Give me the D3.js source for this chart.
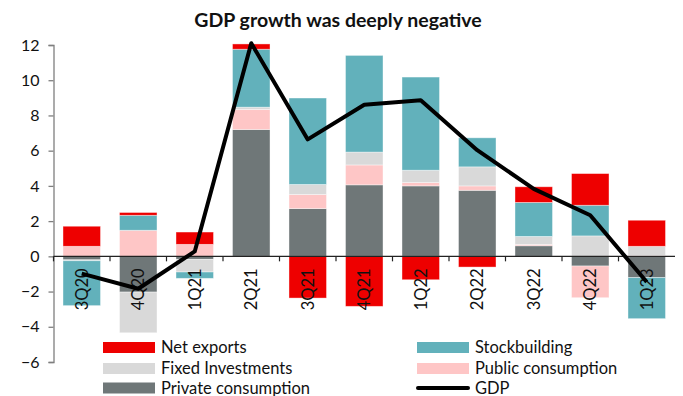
<!DOCTYPE html>
<html>
<head>
<meta charset="utf-8">
<script src="https://cdn.jsdelivr.net/npm/d3@7"></script>
<style>
  body { margin: 0; background: #fff; }
  svg { display: block; font-family: Lato, "Open Sans", sans-serif; }
</style>
</head>
<body>
<div id="chart"></div>
<script>
// data (percentage points)
const categories = ['3Q20', '4Q20', '1Q21', '2Q21', '3Q21', '4Q21', '1Q22', '2Q22', '3Q22', '4Q22', '1Q23']
const privateConsumption = [-0.2, -2.03, -0.17, 7.2, 2.71, 4.06, 4.0, 3.75, 0.6, -0.55, -1.21]
const publicConsumption = [0.57, 1.48, 0.68, 1.14, 0.8, 1.13, 0.19, 0.25, 0.08, -1.8, 0.05]
const fixedInvestments = [-0.05, -2.31, -0.72, 0.13, 0.57, 0.73, 0.7, 1.08, 0.45, 1.16, 0.52]
const stockbuilding = [-2.55, 0.85, -0.36, 3.29, 4.91, 5.49, 5.29, 1.65, 1.93, 1.74, -2.33]
const netExports = [1.14, 0.16, 0.7, 0.3, -2.37, -2.84, -1.33, -0.61, 0.89, 1.8, 1.48]
const gdp = [-0.98, -1.84, 0.28, 12.1, 6.64, 8.61, 8.86, 6.03, 3.83, 2.33, -1.46]
const yTicks = [-6, -4, -2, 0, 2, 4, 6, 8, 10, 12]

const width = 683, height = 396
const series = [
  { key: 'private', name: 'Private consumption', color: '#6f7778', values: privateConsumption },
  { key: 'public', name: 'Public consumption', color: '#fec6c6', values: publicConsumption },
  { key: 'fixed', name: 'Fixed Investments', color: '#d9d9d9', values: fixedInvestments },
  { key: 'stock', name: 'Stockbuilding', color: '#62b1bb', values: stockbuilding },
  { key: 'netexp', name: 'Net exports', color: '#ee0000', values: netExports }
]

const rows = categories.map((c, i) => {
  const r = { cat: c }
  series.forEach(s => { r[s.key] = s.values[i] })
  return r
})

const x = d3.scaleBand().domain(categories).range([53.5, 675]).padding(0)
const y = d3.scaleLinear().domain([-6, 12]).range([362, 45])
const barW = x.bandwidth() * 0.664

const stacked = d3.stack()
  .keys(series.map(s => s.key))
  .offset(d3.stackOffsetDiverging)(rows)

const svg = d3.select('#chart').append('svg')
  .attr('width', width)
  .attr('height', height)

// title
svg.append('text')
  .attr('x', 338).attr('y', 27)
  .attr('text-anchor', 'middle')
  .attr('font-size', 19.5)
  .attr('font-weight', 700)
  .attr('fill', '#111')
  .text('GDP growth was deeply negative')

// bars
svg.append('g').selectAll('g')
  .data(stacked)
  .join('g')
  .attr('fill', (d, i) => series[i].color)
  .selectAll('rect')
  .data(d => d)
  .join('rect')
  .attr('x', d => x(d.data.cat) + (x.bandwidth() - barW) / 2)
  .attr('width', barW)
  .attr('y', d => y(Math.max(d[0], d[1])))
  .attr('height', d => Math.abs(y(d[0]) - y(d[1])))
  .attr('stroke', '#fff')
  .attr('stroke-opacity', 0.5)
  .attr('stroke-width', 0.8)

// y axis
const yAxis = svg.append('g')
  .attr('transform', 'translate(53.5,0)')
  .call(d3.axisLeft(y).tickValues(yTicks).tickSize(5).tickPadding(9))
yAxis.select('.domain').attr('stroke', '#7f7f7f').attr('stroke-width', 1.3)
yAxis.selectAll('.tick line').attr('stroke', '#7f7f7f').attr('stroke-width', 1.3)
yAxis.selectAll('.tick text')
  .attr('font-size', 16)
  .attr('font-family', 'Lato, sans-serif')
  .attr('fill', '#111')

// zero line with category boundary ticks
const zero = svg.append('g').attr('transform', `translate(0,${y(0)})`)
zero.append('line')
  .attr('x1', 53.5).attr('x2', 675)
  .attr('stroke', '#222').attr('stroke-width', 1.3)
zero.selectAll('.cut')
  .data(categories)
  .join('line')
  .attr('class', 'cut')
  .attr('x1', d => x(d)).attr('x2', d => x(d))
  .attr('y1', 0).attr('y2', 5)
  .attr('stroke', '#222').attr('stroke-width', 1.2)

// category labels, rotated
svg.append('g').selectAll('text')
  .data(categories)
  .join('text')
  .attr('transform', d => `translate(${x(d) + x.bandwidth() / 2 + 6},${y(0) + 12}) rotate(-90)`)
  .attr('text-anchor', 'end')
  .attr('font-size', 16.5)
  .attr('fill', '#111')
  .text(d => d)

// GDP line
const line = d3.line()
  .x((d, i) => x(categories[i]) + x.bandwidth() / 2)
  .y(d => y(d))
svg.append('path')
  .datum(gdp)
  .attr('d', line)
  .attr('fill', 'none')
  .attr('stroke', '#000')
  .attr('stroke-width', 4)
  .attr('stroke-linejoin', 'round')

// legend
const legendItems = [
  { name: 'Net exports', color: '#ee0000', col: 0, row: 0 },
  { name: 'Stockbuilding', color: '#62b1bb', col: 1, row: 0 },
  { name: 'Fixed Investments', color: '#d9d9d9', col: 0, row: 1 },
  { name: 'Public consumption', color: '#fec6c6', col: 1, row: 1 },
  { name: 'Private consumption', color: '#6f7778', col: 0, row: 2 },
  { name: 'GDP', color: '#000', col: 1, row: 2, line: true }
]
const colX = [103, 417]
const rowY = [347.5, 368.5, 388]
const legend = svg.append('g').selectAll('g')
  .data(legendItems)
  .join('g')
  .attr('transform', d => `translate(${colX[d.col]},${rowY[d.row]})`)
legend.filter(d => !d.line).append('rect')
  .attr('x', 0).attr('y', -5.5)
  .attr('width', 52).attr('height', 11)
  .attr('fill', d => d.color)
legend.filter(d => d.line).append('line')
  .attr('x1', 1).attr('x2', 51)
  .attr('stroke', '#000').attr('stroke-width', 4)
  .attr('stroke-linecap', 'round')
legend.append('text')
  .attr('x', 58).attr('y', 5.5)
  .attr('font-size', 16.5)
  .attr('fill', '#111')
  .text(d => d.name)
</script>
</body>
</html>
